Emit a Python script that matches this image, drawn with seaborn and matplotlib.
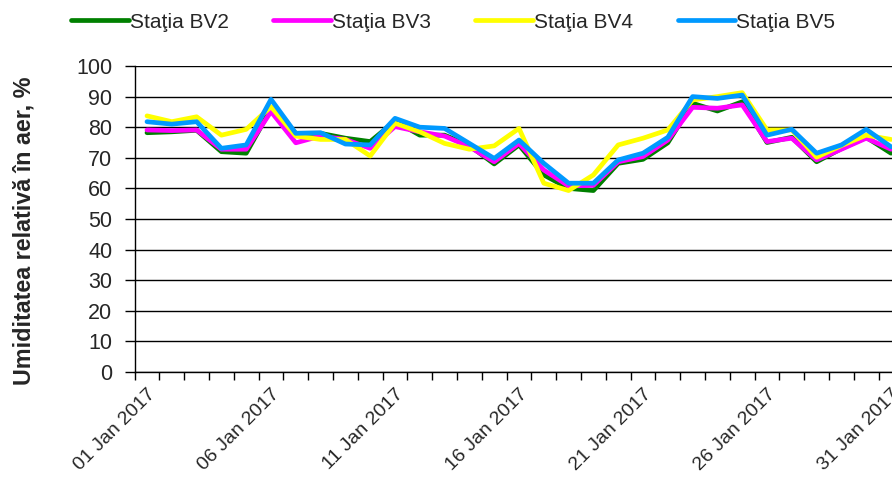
import matplotlib
matplotlib.use("Agg")
import matplotlib.pyplot as plt
import seaborn as sns
import pandas as pd
import numpy as np
from matplotlib.ticker import FixedLocator, MultipleLocator

days = list(range(1, 32))
bv2 = [78.2, 78.5, 79.0, 72.0, 71.5, 86.0, 78.0, 78.0, 76.4, 75.3, 82.0, 77.4, 77.4, 74.0, 68.0, 74.2,
       64.4, 60.0, 59.3, 68.2, 69.5, 74.9, 87.8, 85.3, 88.3, 75.0, 76.7, 68.7, 73.0, 76.7, 71.5]
bv3 = [79.1, 78.9, 79.1, 72.8, 72.8, 85.1, 74.9, 77.1, 76.0, 73.1, 80.2, 78.5, 77.1, 73.6, 68.7, 74.7,
       66.0, 60.8, 61.0, 68.7, 70.4, 75.8, 86.5, 86.2, 87.3, 75.3, 76.4, 69.3, 72.8, 76.4, 72.8]
bv4 = [83.7, 81.8, 83.4, 77.4, 79.3, 86.7, 77.1, 76.0, 76.0, 70.6, 81.3, 78.5, 74.7, 72.8, 73.9, 79.6,
       61.7, 59.3, 64.4, 74.2, 76.4, 79.1, 88.9, 90.0, 91.3, 79.1, 79.1, 70.2, 74.0, 77.4, 76.0]
bv5 = [81.8, 81.0, 81.8, 73.1, 74.2, 89.1, 78.0, 78.2, 74.5, 74.2, 82.9, 80.0, 79.6, 74.7, 69.8, 75.8,
       68.2, 61.7, 61.7, 69.3, 71.5, 76.7, 90.0, 89.4, 90.5, 77.4, 79.3, 71.5, 74.2, 79.3, 73.6]
series_names = ["Staţia BV2", "Staţia BV3", "Staţia BV4", "Staţia BV5"]
label_days = [1, 6, 11, 16, 21, 26, 31]
label_texts = ["01 Jan 2017", "06 Jan 2017", "11 Jan 2017", "16 Jan 2017",
               "21 Jan 2017", "26 Jan 2017", "31 Jan 2017"]
colors = ["#008000", "#FF00FF", "#FFFF00", "#0099FF"]

frames = []
for name, vals in zip(series_names, [bv2, bv3, bv4, bv5]):
    frames.append(pd.DataFrame({"day": days, "value": vals, "series": name}))
df = pd.concat(frames, ignore_index=True)

sns.set_style("white")
plt.rcParams["font.family"] = ["Liberation Sans", "DejaVu Sans"]

fig = plt.figure(figsize=(8.92, 4.8), dpi=100)
ax = fig.add_axes([0.1509, 0.225, 1.0 - 0.1509, 0.6375])

sns.lineplot(data=df, x="day", y="value", hue="series", palette=colors,
             hue_order=series_names, linewidth=3.4, ax=ax, legend=True)

ax.set_xlim(0.5, 31.04)
ax.set_ylim(0, 100)
ax.yaxis.set_major_locator(MultipleLocator(10))
ax.grid(axis="y", color="black", linewidth=1.0)
ax.grid(axis="x", visible=False)
ax.set_axisbelow(True)

for s in ["top", "right"]:
    ax.spines[s].set_visible(False)
for s in ["left", "bottom"]:
    ax.spines[s].set_color("black")
    ax.spines[s].set_linewidth(1.0)

ax.set_xticks(label_days)
ax.set_xticklabels(label_texts, rotation=45, ha="right", rotation_mode="anchor", fontsize=14)
ax.xaxis.set_minor_locator(FixedLocator([k + 0.5 for k in range(0, 32)]))
ax.tick_params(axis="x", which="major", length=0, pad=10)
ax.tick_params(axis="x", which="minor", length=6, width=1, color="black", direction="out", bottom=True)
ax.tick_params(axis="y", which="major", length=7, width=1, color="black", direction="out", left=True,
               labelsize=15.5, pad=9)

ax.set_xlabel("")
ax.set_ylabel("Umiditatea relativă în aer, %", fontsize=16.8, fontweight="bold")
ax.yaxis.set_label_coords(-0.1315, 0.461)

handles, labels = ax.get_legend_handles_labels()
ax.legend_.remove()
fig.legend(handles, labels, loc="center", bbox_to_anchor=(0.508, 1 - 22 / 480), ncol=4, frameon=False,
           fontsize=15, handlelength=2.75, handletextpad=0.05, columnspacing=2.15,
           borderpad=0, borderaxespad=0)

fig.savefig("out.png", dpi=100)
